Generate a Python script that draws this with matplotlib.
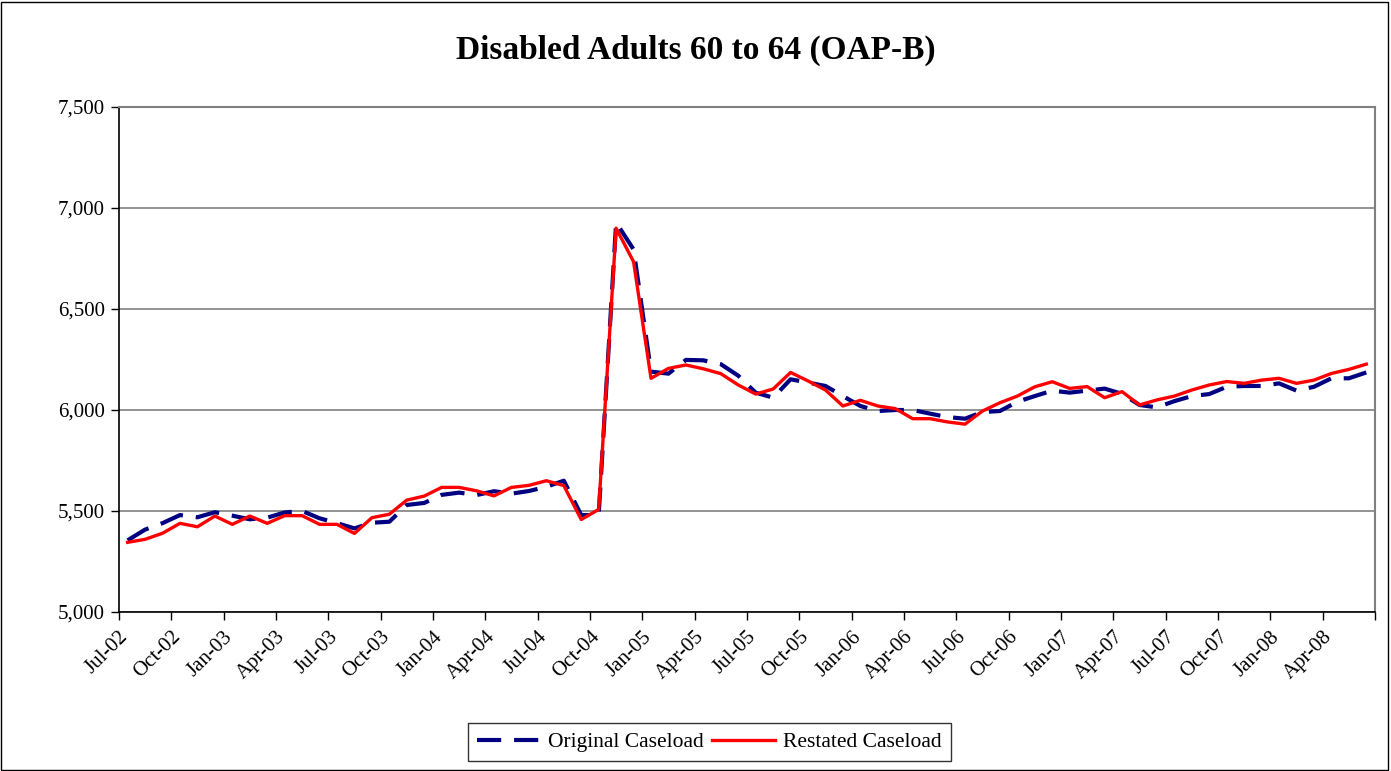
import pandas as pd
import matplotlib
matplotlib.use("Agg")
import matplotlib.pyplot as plt
from matplotlib.patches import Rectangle
from matplotlib.ticker import FuncFormatter

plt.rcParams['font.family'] = ['Liberation Serif', 'DejaVu Serif']

# monthly caseload, Jul-02 .. Jun-08
months = pd.date_range('2002-07-01', periods=72, freq='MS').strftime('%b-%y').tolist()

original = [5355, 5408, 5440, 5480, 5469, 5494, 5477, 5459, 5467, 5493, 5500, 5464,
            5440, 5414, 5442, 5447, 5530, 5540, 5580, 5591, 5579, 5598, 5586, 5599,
            5620, 5650, 5480, 5480, 6928, 6795, 6190, 6180, 6248, 6246, 6227, 6170,
            6086, 6061, 6152, 6136, 6119, 6069, 6020, 5995, 6000, 6000, 5982, 5965,
            5957, 5990, 5995, 6041, 6069, 6096, 6086, 6096, 6106, 6080, 6025, 6013,
            6044, 6069, 6079, 6115, 6119, 6119, 6132, 6096, 6115, 6157, 6157, 6186]

restated = [5345, 5360, 5390, 5439, 5422, 5475, 5434, 5475, 5439, 5477, 5477, 5434,
            5434, 5389, 5467, 5484, 5554, 5574, 5617, 5617, 5600, 5575, 5617, 5627,
            5650, 5626, 5458, 5508, 6900, 6734, 6157, 6206, 6223, 6204, 6180, 6124,
            6079, 6104, 6186, 6144, 6099, 6020, 6048, 6020, 6007, 5957, 5957, 5941,
            5930, 5995, 6036, 6069, 6115, 6140, 6107, 6116, 6061, 6091, 6025, 6050,
            6069, 6099, 6124, 6141, 6132, 6148, 6157, 6132, 6148, 6181, 6201, 6227]

fig = plt.figure(figsize=(13.91, 7.71), dpi=100)
ax = fig.add_axes([0.0855, 0.2062, 0.9030, 0.6550])

x = list(range(len(months)))
ax.plot(x, original, color='#000080', linewidth=3, dashes=(5.8, 3.1),
        label='Original Caseload', zorder=3)
ax.plot(x, restated, color='red', linewidth=2.4, label='Restated Caseload', zorder=4)

ax.set_xlim(-0.5, len(months) - 0.5)
ax.set_ylim(5000, 7500)
ax.set_yticks([5000, 5500, 6000, 6500, 7000, 7500])
ax.yaxis.set_major_formatter(FuncFormatter(lambda v, p: f'{int(v):,}'))
ax.grid(axis='y', color='#808080', linewidth=1.2)
ax.set_axisbelow(True)

ticks = [i - 0.5 for i in range(0, len(months) + 1, 3)]
labels = [months[i] for i in range(0, len(months), 3)] + ['']
ax.set_xticks(ticks)
ax.set_xticklabels(labels, rotation=45, ha='right', rotation_mode='anchor')

ax.tick_params(axis='both', direction='out', length=6, width=1, labelsize=15, colors='black')
ax.tick_params(axis='x', pad=5)
ax.tick_params(axis='y', pad=4)

for s in ['top', 'right']:
    ax.spines[s].set_color('#808080')
    ax.spines[s].set_linewidth(1.5)
for s in ['left', 'bottom']:
    ax.spines[s].set_color('black')
    ax.spines[s].set_linewidth(1.2)

fig.suptitle('Disabled Adults 60 to 64 (OAP-B)', fontsize=24, fontweight='bold', y=0.955)

leg = ax.legend(loc='center', bbox_to_anchor=(0.470, -0.258), ncol=2, fontsize=15.5,
                frameon=True, fancybox=False, edgecolor='black', handlelength=2.9,
                columnspacing=0.4, handletextpad=0.4, borderpad=0.42)
leg.get_frame().set_linewidth(1)

fig.patches.append(Rectangle((0.001, 0.001), 0.997, 0.997, transform=fig.transFigure,
                             fill=False, edgecolor='black', linewidth=1))

fig.savefig('out.png', dpi=100)
